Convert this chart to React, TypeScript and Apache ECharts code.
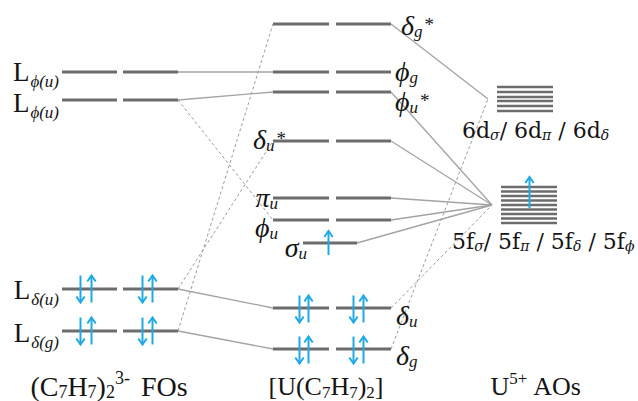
import React, { useEffect, useRef } from 'react';
import * as echarts from 'echarts';

// ---------------- data (energies in arbitrary units, up = higher) ----------------
// (C7H7)2^3- fragment orbitals
const fragNames = ['Lphi(u)-a', 'Lphi(u)-b', 'Ldelta(u)', 'Ldelta(g)'];
const fragEnergy = [329, 301, 112, 70];
const fragElectrons = [0, 0, 4, 4];
const fragLabels = [
  '{L|L}{Ls|ϕ(u)}',
  '{L|L}{Ls|ϕ(u)}',
  '{L|L}{Ls|δ(u)}',
  '{L|L}{Ls|δ(g)}',
];

// [U(C7H7)2] molecular orbitals
const moNames = ['dg*', 'pg', 'pu*', 'du*', 'piu', 'pu', 'su', 'du', 'dg'];
const moEnergy = [377, 329, 309, 260, 203, 181, 158, 93, 52];
const moElectrons = [0, 0, 0, 0, 0, 0, 1, 4, 4];
const moLabels = [
  '{g|δ}{gs|g}{st|*}',
  '{g|ϕ}{gs|g}',
  '{g|ϕ}{gs|u}{st|*}',
  '{g|δ}{gs|u}{st|*}',
  '{g|π}{gs|u}',
  '{g|ϕ}{gs|u}',
  '{g|σ}{gs|u}',
  '{g|δ}{gs|u}',
  '{g|δ}{gs|g}',
];

// U5+ atomic orbitals
const aoNames = ['6d', '5f'];
const aoEnergy = [302, 196];
const d6Sublevels = [314, 309, 304, 300, 295, 290];
const f5Sublevels = [214, 209.5, 205, 200.5, 196, 191.5, 187, 182.5, 178];
const aoElectrons = [0, 1];
const aoLabels = [
  '{a|6d}{as|σ}{a|/ 6d}{as|π}{a| / 6d}{as|δ}',
  '{a|5f}{as|σ}{a|/ 5f}{as|π}{a| / 5f}{as|δ}{a| / 5f}{as|ϕ}',
];

const columnTitles = [
  '{t2|(C}{ts2|7}{t2|H}{ts2|7}{t2|)}{ts2|2}{tp2|3-}{t2| FOs}',
  '{t|[U(C}{ts|7}{t|H}{ts|7}{t|)}{ts|2}{t|]}',
  '{t|U}{tp|5+}{t| AOs}',
];

// correlation lines
const solidLinks = [
  ['Lphi(u)-a', 'pg'],
  ['Lphi(u)-b', 'pu*'],
  ['Ldelta(u)', 'du'],
  ['Ldelta(g)', 'dg'],
  ['dg*', '6d'],
  ['pu*', '5f'],
  ['du*', '5f'],
  ['piu', '5f'],
  ['pu', '5f'],
  ['su', '5f'],
];
const dashedLinks = [
  ['Lphi(u)-b', 'pu'],
  ['Ldelta(u)', 'du*'],
  ['Ldelta(g)', 'dg*'],
  ['du', '5f'],
  ['dg', '6d'],
];

// ---------------- layout (x in px-like units, styles) ----------------
const FRAG_BARS = [[62, 117], [123, 178]];
const MO_BARS = [[273, 329], [336, 391]];
const SINGLE_MO_BAR = [303, 357];
const AO_BAR: Record<string, number[]> = { '6d': [497, 553], '5f': [501, 557] };
const AO_HUB: Record<string, number> = { '6d': 488, '5f': 492 };
const FRAG_ARROW_X = [80, 91, 142, 152];
const MO_ARROW_X = [299, 308, 353, 363];
const SINGLE_MO_ARROW_X = 328;
const AO_ARROW_X = 529;

const fragLabelPos = [
  [59, 329], [59, 298], [59, 111], [59, 68],
];
const moLabelPos: [number, number, string][] = [
  [401, 376, 'left'],
  [395, 330, 'left'],
  [395, 300, 'left'],
  [286, 262, 'right'],
  [278, 204, 'right'],
  [278, 174, 'right'],
  [307, 154, 'right'],
  [396, 86, 'left'],
  [396, 46, 'left'],
];
const aoLabelPos = [[462, 271], [452, 160]];
const titlePos = [[109, 15], [326, 15], [536, 15]];

const SERIF = '"Liberation Serif", "Times New Roman", "DejaVu Serif", serif';
const DSERIF = '"DejaVu Serif", "Liberation Serif", serif';
const LEVEL_COLOR = '#6c6c6c';
const LINK_COLOR = '#a3a3a3';
const DASH_COLOR = '#9c9c9c';
const ARROW_COLOR = '#1fa9e4';
const TEXT_COLOR = '#141414';

const RICH: any = {
  L: { fontSize: 27, fontFamily: SERIF, verticalAlign: 'middle' },
  Ls: { fontSize: 17, fontFamily: SERIF, fontStyle: 'italic', padding: [19, 0, 0, 1], verticalAlign: 'middle' },
  g: { fontSize: 28, fontFamily: SERIF, fontStyle: 'italic', verticalAlign: 'middle' },
  gs: { fontSize: 17, fontFamily: SERIF, fontStyle: 'italic', padding: [13, 0, 0, 0], verticalAlign: 'middle' },
  st: { fontSize: 19, fontFamily: SERIF, padding: [0, 0, 2, 2], verticalAlign: 'middle' },
  a: { fontSize: 22, fontFamily: DSERIF, verticalAlign: 'middle' },
  as: { fontSize: 14, fontFamily: DSERIF, fontStyle: 'italic', padding: [9, 0, 0, 0], verticalAlign: 'middle' },
  t: { fontSize: 26, fontFamily: SERIF, verticalAlign: 'middle' },
  ts: { fontSize: 17, fontFamily: SERIF, padding: [12, 0, 0, 0], verticalAlign: 'middle' },
  tp: { fontSize: 17, fontFamily: SERIF, padding: [0, 0, 16, 0], verticalAlign: 'middle' },
  t2: { fontSize: 28, fontFamily: SERIF, verticalAlign: 'middle' },
  ts2: { fontSize: 18, fontFamily: SERIF, padding: [12, 0, 0, 0], verticalAlign: 'middle' },
  tp2: { fontSize: 18, fontFamily: SERIF, padding: [0, 4, 17, 0], verticalAlign: 'middle' },
};

function buildOption() {
  const eOf = (name: string): number => {
    let i = fragNames.indexOf(name);
    if (i >= 0) return fragEnergy[i];
    i = moNames.indexOf(name);
    if (i >= 0) return moEnergy[i];
    return aoEnergy[aoNames.indexOf(name)];
  };
  const moLeft = (name: string) => (name === 'su' ? SINGLE_MO_BAR[0] : MO_BARS[0][0]);
  const moRight = (name: string) => (name === 'su' ? SINGLE_MO_BAR[1] : MO_BARS[1][1]);
  const endpoint = (from: string, to: string): number[] => {
    if (fragNames.includes(from)) {
      return [FRAG_BARS[1][1], eOf(from), moLeft(to), eOf(to)];
    }
    return [moRight(from), eOf(from), AO_HUB[to], eOf(to)];
  };

  // level bars: [x1, x2, E, width]
  const bars: number[][] = [];
  fragEnergy.forEach((e) => FRAG_BARS.forEach((b) => bars.push([b[0], b[1], e, 3])));
  moEnergy.forEach((e, i) => {
    if (moNames[i] === 'su') bars.push([SINGLE_MO_BAR[0], SINGLE_MO_BAR[1], e, 3]);
    else MO_BARS.forEach((b) => bars.push([b[0], b[1], e, 3]));
  });
  d6Sublevels.forEach((e) => bars.push([AO_BAR['6d'][0], AO_BAR['6d'][1], e, 2.6]));
  f5Sublevels.forEach((e) => bars.push([AO_BAR['5f'][0], AO_BAR['5f'][1], e, 2.6]));

  // links: [x1, E1, x2, E2, dashed]
  const links: number[][] = [];
  solidLinks.forEach(([a, b]) => links.push([...endpoint(a, b), 0]));
  dashedLinks.forEach(([a, b]) => links.push([...endpoint(a, b), 1]));

  // electrons: [x, E, spin(1 up / -1 down), halfLenPx, shiftPx]
  const electrons: number[][] = [];
  fragEnergy.forEach((e, i) => {
    if (fragElectrons[i] === 4) FRAG_ARROW_X.forEach((x, k) => electrons.push([x, e, k % 2 ? 1 : -1, 13.5, 0]));
  });
  moEnergy.forEach((e, i) => {
    if (moElectrons[i] === 4) MO_ARROW_X.forEach((x, k) => electrons.push([x, e, k % 2 ? 1 : -1, 13.5, 1]));
    if (moElectrons[i] === 1) electrons.push([SINGLE_MO_ARROW_X, e, 1, 12, 0]);
  });
  aoEnergy.forEach((e, i) => {
    if (aoElectrons[i] === 1) electrons.push([AO_ARROW_X, e, 1, 15.5, -12.5]);
  });

  // labels: [x, E, alignCode]  0 left, 1 right, 2 center
  const labelTexts: string[] = [];
  const labelData: number[][] = [];
  fragLabels.forEach((t, i) => { labelTexts.push(t); labelData.push([fragLabelPos[i][0], fragLabelPos[i][1], 1]); });
  moLabels.forEach((t, i) => { labelTexts.push(t); labelData.push([moLabelPos[i][0], moLabelPos[i][1], moLabelPos[i][2] === 'left' ? 0 : 1]); });
  aoLabels.forEach((t, i) => { labelTexts.push(t); labelData.push([aoLabelPos[i][0], aoLabelPos[i][1], 0]); });
  columnTitles.forEach((t, i) => { labelTexts.push(t); labelData.push([titlePos[i][0], titlePos[i][1], 2]); });

  const aligns = ['left', 'right', 'center'];

  return {
    animation: false,
    backgroundColor: '#ffffff',
    grid: { left: 0, right: 0, top: 0, bottom: 0 },
    xAxis: { type: 'value', min: 0, max: 638, show: false },
    yAxis: { type: 'value', min: 0, max: 401, show: false },
    series: [
      {
        type: 'custom',
        name: 'links',
        silent: true,
        z: 1,
        data: links,
        renderItem: (_p: any, api: any) => {
          const a = api.coord([api.value(0), api.value(1)]);
          const b = api.coord([api.value(2), api.value(3)]);
          const dashed = api.value(4) === 1;
          return {
            type: 'line',
            shape: { x1: a[0], y1: a[1], x2: b[0], y2: b[1] },
            style: {
              stroke: dashed ? DASH_COLOR : LINK_COLOR,
              lineWidth: dashed ? 1 : 1.3,
              lineDash: dashed ? [3, 2.5] : null,
            },
          };
        },
      },
      {
        type: 'custom',
        name: 'levels',
        silent: true,
        z: 2,
        data: bars,
        renderItem: (_p: any, api: any) => {
          const a = api.coord([api.value(0), api.value(2)]);
          const b = api.coord([api.value(1), api.value(2)]);
          return {
            type: 'line',
            shape: { x1: a[0], y1: a[1], x2: b[0], y2: b[1] },
            style: { stroke: LEVEL_COLOR, lineWidth: api.value(3) },
          };
        },
      },
      {
        type: 'custom',
        name: 'electrons',
        silent: true,
        z: 3,
        data: electrons,
        renderItem: (_p: any, api: any) => {
          const c = api.coord([api.value(0), api.value(1)]);
          const spin = api.value(2);
          const h = api.value(3);
          const cy = c[1] + api.value(4);
          const x = Math.round(c[0]) + 0.5;
          const tip = spin > 0 ? cy - h : cy + h;
          const tail = spin > 0 ? cy + h : cy - h;
          const hw = 4.2;
          const hh = spin > 0 ? 6 : -6;
          return {
            type: 'group',
            children: [
              { type: 'line', shape: { x1: x, y1: tail, x2: x, y2: tip }, style: { stroke: ARROW_COLOR, lineWidth: 2 } },
              {
                type: 'polyline',
                shape: { points: [[x - hw, tip + hh], [x, tip], [x + hw, tip + hh]] },
                style: { stroke: ARROW_COLOR, lineWidth: 2, fill: null },
              },
            ],
          };
        },
      },
      {
        type: 'custom',
        name: 'labels',
        silent: true,
        z: 4,
        data: labelData,
        renderItem: (p: any, api: any) => {
          const c = api.coord([api.value(0), api.value(1)]);
          return {
            type: 'text',
            x: c[0],
            y: c[1],
            style: {
              text: labelTexts[p.dataIndex],
              rich: RICH,
              fill: TEXT_COLOR,
              align: aligns[api.value(2)],
              verticalAlign: 'middle',
            },
          };
        },
      },
    ],
  };
}

export default function App() {
  const ref = useRef<HTMLDivElement>(null);
  useEffect(() => {
    if (!ref.current) return;
    const chart = echarts.init(ref.current, null, { renderer: 'svg' });
    chart.setOption(buildOption() as any);
    return () => chart.dispose();
  }, []);
  return (
    <div
      ref={ref}
      style={{ position: 'fixed', left: 0, top: 0, width: 638, height: 401, background: '#fff' }}
    />
  );
}
